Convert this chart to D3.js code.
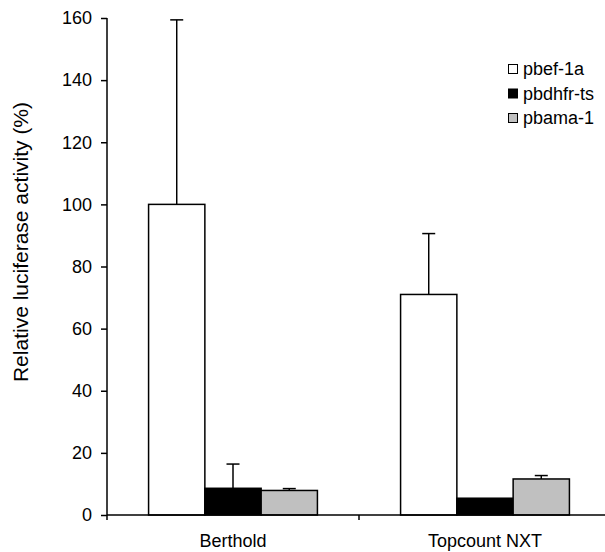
<!DOCTYPE html>
<html>
<head>
<meta charset="utf-8">
<script src="https://cdn.jsdelivr.net/npm/d3@7"></script>
<style>
  body { margin: 0; background: #fff; }
  svg { display: block; font-family: "Liberation Sans", Arial, sans-serif; }
  .axis path, .axis line { stroke: #000; stroke-width: 1.5px; }
  .axis text { font-size: 18px; fill: #000; }
</style>
</head>
<body>
<div id="chart"></div>
<script>
// instruments on the x axis
const instruments = ['Berthold', 'Topcount NXT'];
// promoter constructs (legend order)
const promoters = ['pbef-1a', 'pbdhfr-ts', 'pbama-1'];
const colors = ['#ffffff', '#000000', '#c0c0c0'];
// mean relative activity, one value per instrument
const pbef1a = [100, 71];
const pbdhfrts = [8.6, 5.4];
const pbama1 = [7.9, 11.6];
// upper error (sd), one value per instrument
const pbef1aErr = [59.4, 19.6];
const pbdhfrtsErr = [7.8, 0];
const pbama1Err = [0.6, 1.1];
const yTicks = [0, 20, 40, 60, 80, 100, 120, 140, 160];

const values = [pbef1a, pbdhfrts, pbama1];
const errors = [pbef1aErr, pbdhfrtsErr, pbama1Err];

const width = 605;
const height = 552;
const margin = { top: 18, right: -6, bottom: 37, left: 107 };

const svg = d3
  .select('#chart')
  .append('svg')
  .attr('width', width)
  .attr('height', height);

// scales
const x = d3
  .scaleBand()
  .domain(instruments)
  .range([margin.left, width - margin.right])
  .paddingInner(0.33)
  .paddingOuter(0.165);

const xSub = d3
  .scaleBand()
  .domain(promoters)
  .range([0, x.bandwidth()]);

const y = d3
  .scaleLinear()
  .domain([0, 160])
  .range([height - margin.bottom, margin.top]);

// flatten data for drawing
const data = [];
instruments.forEach((inst, i) => {
  promoters.forEach((p, j) => {
    data.push({ inst, p, color: colors[j], v: values[j][i], err: errors[j][i] });
  });
});

// bars
svg
  .append('g')
  .selectAll('rect')
  .data(data)
  .join('rect')
  .attr('x', d => x(d.inst) + xSub(d.p))
  .attr('y', d => y(d.v))
  .attr('width', xSub.bandwidth())
  .attr('height', d => y(0) - y(d.v))
  .attr('fill', d => d.color)
  .attr('stroke', '#000')
  .attr('stroke-width', 1.5);

// error bars (upper only)
const errG = svg
  .append('g')
  .selectAll('g')
  .data(data.filter(d => d.err > 0))
  .join('g')
  .attr('stroke', '#000')
  .attr('stroke-width', 1.5);

errG
  .append('line')
  .attr('x1', d => x(d.inst) + xSub(d.p) + xSub.bandwidth() / 2)
  .attr('x2', d => x(d.inst) + xSub(d.p) + xSub.bandwidth() / 2)
  .attr('y1', d => y(d.v))
  .attr('y2', d => y(d.v + d.err));

errG
  .append('line')
  .attr('x1', d => x(d.inst) + xSub(d.p) + xSub.bandwidth() / 2 - 6.5)
  .attr('x2', d => x(d.inst) + xSub(d.p) + xSub.bandwidth() / 2 + 6.5)
  .attr('y1', d => y(d.v + d.err))
  .attr('y2', d => y(d.v + d.err));

// x axis: labels centred on groups, ticks on group boundaries
const xAxis = svg
  .append('g')
  .attr('class', 'axis')
  .attr('transform', `translate(0,${y(0)})`)
  .call(d3.axisBottom(x).tickSize(0).tickPadding(19));
xAxis.select('.domain').attr('d', `M${margin.left},0H${width - margin.right}`);
xAxis
  .selectAll('.bound')
  .data(d3.range(instruments.length + 1))
  .join('line')
  .attr('class', 'bound')
  .attr('x1', i => margin.left + i * x.step())
  .attr('x2', i => margin.left + i * x.step())
  .attr('y1', 0)
  .attr('y2', 5);

// y axis
const yAxis = svg
  .append('g')
  .attr('class', 'axis')
  .attr('transform', `translate(${margin.left},0)`)
  .call(d3.axisLeft(y).tickValues(yTicks).tickSize(6).tickSizeOuter(0).tickPadding(9));
yAxis.select('.domain').attr('d', `M0,${y(160)}V${y(0)}`);

// y axis title
svg
  .append('text')
  .attr('transform', `translate(28,242) rotate(-90)`)
  .attr('text-anchor', 'middle')
  .style('font-size', '21px')
  .text('Relative luciferase activity (%)');

// legend
const legend = svg
  .append('g')
  .attr('transform', 'translate(508,69)')
  .selectAll('g')
  .data(promoters)
  .join('g')
  .attr('transform', (d, i) => `translate(0,${i * 24.5})`);

legend
  .append('rect')
  .attr('x', 0.5)
  .attr('y', -4.5)
  .attr('width', 9)
  .attr('height', 9)
  .attr('fill', (d, i) => colors[i])
  .attr('stroke', '#000')
  .attr('stroke-width', 1);

legend
  .append('text')
  .attr('x', 15)
  .attr('dy', '0.35em')
  .style('font-size', '18px')
  .text(d => d);
</script>
</body>
</html>
